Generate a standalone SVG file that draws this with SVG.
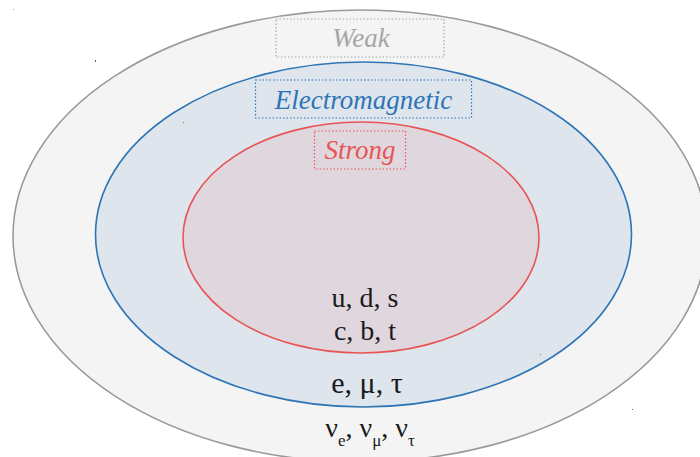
<svg xmlns="http://www.w3.org/2000/svg" width="700" height="457" viewBox="0 0 700 457">
<style>
.lbl{font-family:"Liberation Serif","Times New Roman",serif;font-style:italic;font-size:27px;text-anchor:middle}
.p{font-family:"Liberation Serif","Times New Roman",serif;font-size:28px;fill:#1a1a1a;text-anchor:middle}
.sub{font-size:17px}
.box{fill:none;stroke-width:1.2;stroke-dasharray:1.5 2}
</style>
<rect width="700" height="457" fill="#ffffff"/>
<g id="weak">
<ellipse cx="360" cy="236" rx="347" ry="226" fill="#f4f4f4" stroke="#9a9a9a" stroke-width="1.6"/>
<rect class="box" x="276" y="19" width="168" height="38" stroke="#a8a8a8"/>
<text class="lbl" x="361" y="47" fill="#a6a6a6">Weak</text>
</g>
<g id="electromagnetic">
<ellipse cx="363.5" cy="234.5" rx="268" ry="172.5" fill="#dfe5ed" stroke="#2e75b6" stroke-width="1.6"/>
<rect class="box" x="255.5" y="80" width="216" height="38" stroke="#2e75b6"/>
<text class="lbl" x="363.5" y="109" fill="#2e75b6">Electromagnetic</text>
</g>
<g id="strong">
<ellipse cx="361" cy="237.5" rx="178" ry="115.5" fill="#e0d7de" stroke="#e85454" stroke-width="1.6"/>
<rect class="box" x="314.5" y="131" width="91" height="38" stroke="#e85454"/>
<text class="lbl" x="360" y="159" fill="#e85454">Strong</text>
</g>
<g id="particles">
<text class="p" x="365" y="307">u, d, s</text>
<text class="p" x="365" y="340">c, b, t</text>
<text class="p" x="367" y="393" style="font-size:30px">e, μ, τ</text>
<text class="p" x="370" y="437">ν<tspan class="sub" dy="9">e</tspan><tspan dy="-9">, ν</tspan><tspan class="sub" dy="9">μ</tspan><tspan dy="-9">, ν</tspan><tspan class="sub" dy="9">τ</tspan></text>
</g>
<g id="marks">
<rect x="13" y="9" width="1" height="1" fill="#999"/>
<rect x="95" y="60" width="1" height="2" fill="#2e75b6"/>
<rect x="183" y="122" width="1" height="1" fill="#e85454"/>
<rect x="540" y="354" width="1" height="1" fill="#e85454"/>
<rect x="632" y="409" width="1" height="1" fill="#2e75b6"/>
</g>
<g id="connectors"></g>
</svg>
